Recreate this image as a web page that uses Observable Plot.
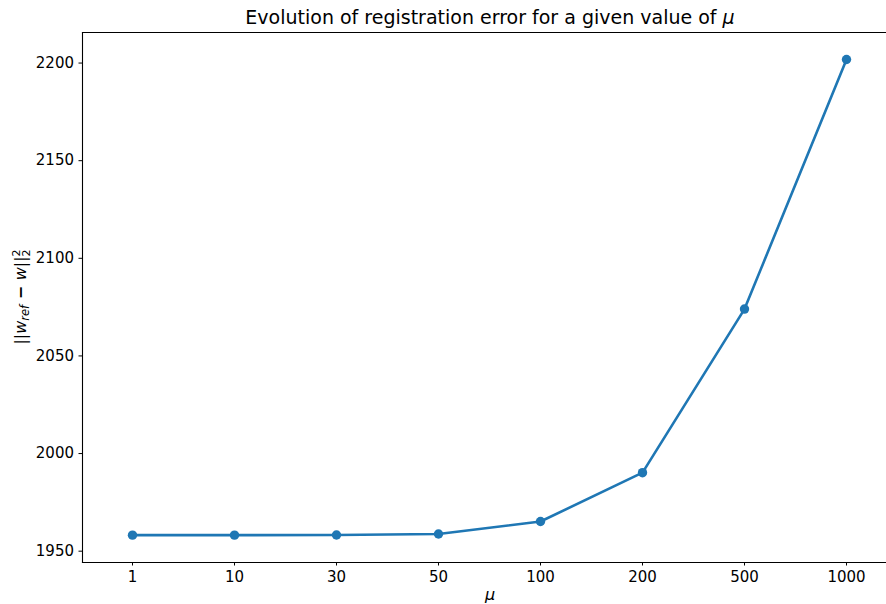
<!DOCTYPE html>
<html>
<head>
<meta charset="utf-8">
<script src="https://cdn.jsdelivr.net/npm/d3@7"></script>
<script src="https://cdn.jsdelivr.net/npm/@observablehq/plot@0.6"></script>
<style>
  html, body { margin: 0; padding: 0; background: #fff; overflow: hidden; width: 886px; height: 604px; }
  #chart { width: 886px; height: 604px; overflow: hidden; }
  #chart svg { max-width: none !important; font-family: "DejaVu Sans", sans-serif; }
</style>
</head>
<body>
<div id="chart"></div>
<script>
const muLabels = ["1", "10", "30", "50", "100", "200", "500", "1000"];
const errValues = [1958.2, 1958.2, 1958.3, 1958.8, 1965.2, 1990.2, 2074.0, 2201.8];
const yTicks = [1950, 2000, 2050, 2100, 2150, 2200];
const titleText = "Evolution of registration error for a given value of ";

const data = muLabels.map((m, i) => ({mu: m, err: errValues[i]}));

const W = 899, H = 604;
const mL = 82, mR = 1, mT = 32, mB = 42;
const innerW = W - mL - mR;
const step = innerW / 7.99;

const chart = Plot.plot({
  width: W,
  height: H,
  marginLeft: mL,
  marginRight: mR,
  marginTop: mT,
  marginBottom: mB,
  style: {fontFamily: "DejaVu Sans, sans-serif", fontSize: "15px", color: "black", maxWidth: "none"},
  x: {type: "point", domain: muLabels, padding: 0, range: [mL + 0.49 * step, mL + 7.49 * step], label: null},
  y: {domain: [1944.2, 2215.65], label: null},
  marks: [
    Plot.frame({anchor: "left", stroke: "black", strokeWidth: 1.1}),
    Plot.frame({anchor: "top", stroke: "black", strokeWidth: 1.1}),
    Plot.frame({anchor: "bottom", stroke: "black", strokeWidth: 1.1}),
    Plot.frame({anchor: "right", stroke: "black", strokeWidth: 1.1}),
    Plot.axisY({ticks: yTicks, tickSize: 3.5, tickPadding: 5, fontSize: 15, label: null, tickFormat: d => String(d)}),
    Plot.axisX({tickSize: 3.5, tickPadding: 5, fontSize: 15, label: null}),
    Plot.line(data, {x: "mu", y: "err", stroke: "#1f77b4", strokeWidth: 2.6}),
    Plot.dot(data, {x: "mu", y: "err", r: 4.7, fill: "#1f77b4", stroke: "none"})
  ]
});

document.getElementById("chart").appendChild(chart);

const svg = d3.select(chart);
const cx = mL + innerW / 2;

// Title
const t = svg.append("text")
  .attr("x", cx).attr("y", 24)
  .attr("text-anchor", "middle")
  .attr("font-size", 19)
  .attr("fill", "black");
t.append("tspan").text(titleText);
t.append("tspan").attr("font-style", "italic").text("μ");

// X label
svg.append("text")
  .attr("x", cx).attr("y", 600)
  .attr("text-anchor", "middle")
  .attr("font-size", 16)
  .attr("font-style", "italic")
  .attr("fill", "black")
  .text("μ");

// Y label
const yl = svg.append("text")
  .attr("transform", `translate(26, ${(mT + (H - mB)) / 2}) rotate(-90)`)
  .attr("text-anchor", "middle")
  .attr("font-size", 16)
  .attr("fill", "black");
yl.append("tspan").text("||");
yl.append("tspan").attr("font-style", "italic").text("w");
yl.append("tspan").attr("font-style", "italic").attr("font-size", 11.5).attr("dy", 3).text("ref");
yl.append("tspan").attr("dy", -3).attr("font-weight", "bold").text(" − ");
yl.append("tspan").attr("font-style", "italic").text("w");
yl.append("tspan").text("||");
yl.append("tspan").attr("font-size", 11).attr("dy", -6).text("2");
yl.append("tspan").attr("font-size", 11).attr("dx", -7).attr("dy", 10).text("2");
</script>
</body>
</html>
